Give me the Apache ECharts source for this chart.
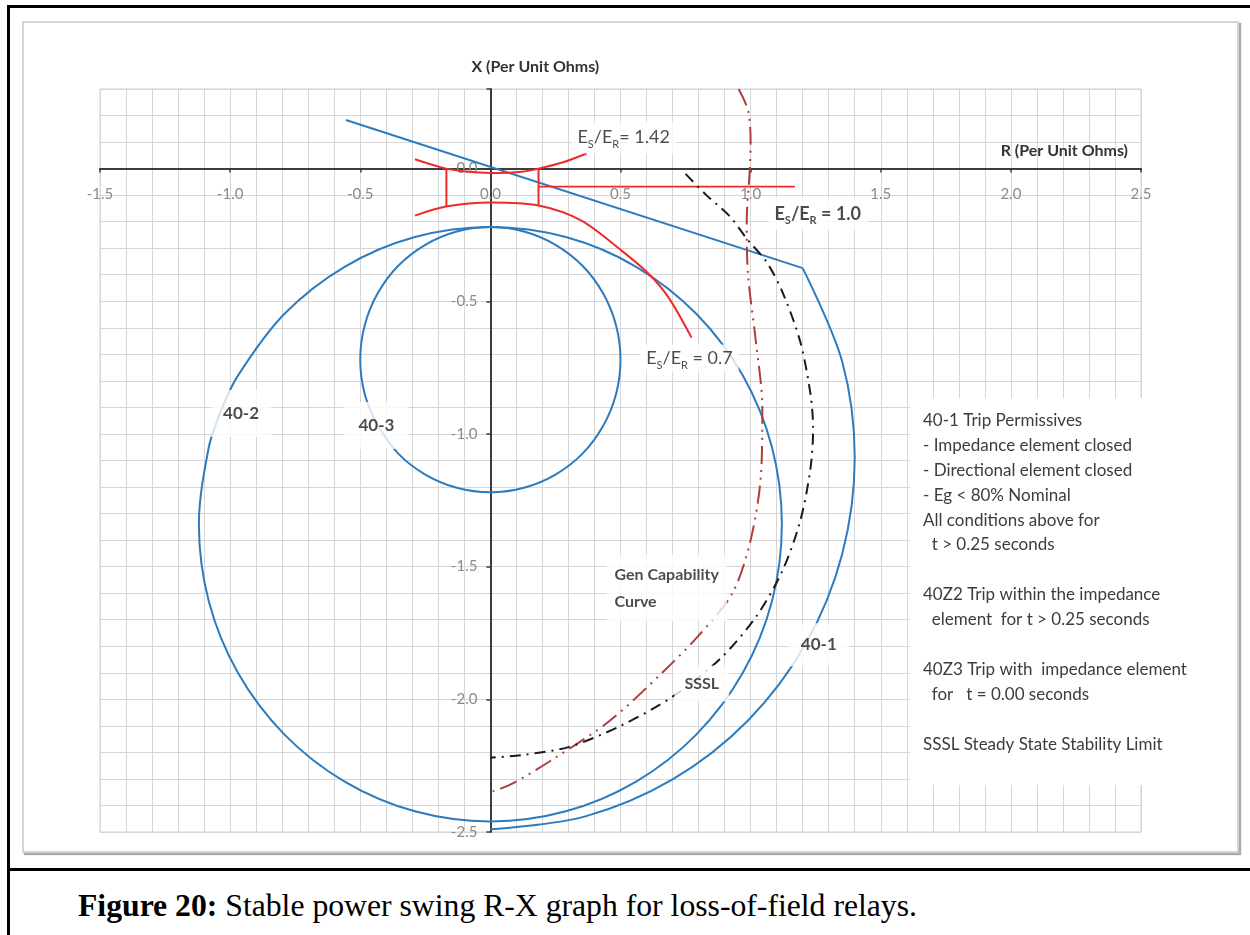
<!DOCTYPE html>
<html>
<head>
<meta charset="utf-8">
<script src="https://cdn.jsdelivr.net/npm/echarts@6/dist/echarts.min.js"></script>
<style>
html,body{margin:0;padding:0;background:#fff;width:1250px;height:935px;overflow:hidden;position:relative}
#outer{position:absolute;left:7px;top:5px;width:1260px;height:950px;border-top:3px solid #000;border-left:3px solid #000}
#sep{position:absolute;left:7px;top:868px;width:1260px;height:3px;background:#000}
#frame{position:absolute;left:22px;top:21px;width:1213px;height:828px;border:2px solid #d4d4d4;box-shadow:2px 2px 1px #a9a9a9;background:#fff}
#caption{position:absolute;left:78px;top:887px;font-family:'Liberation Serif','Times New Roman',serif;font-size:31.7px;line-height:38px;color:#000;white-space:nowrap}
#chart{position:absolute;left:0;top:0;width:1250px;height:935px}
</style>
</head>
<body>
<div id="outer"></div>
<div id="sep"></div>
<div id="frame"></div>
<div id="caption"><b>Figure 20:</b> Stable power swing R-X graph for loss-of-field relays.</div>
<div id="chart"></div>
<script>
// ---------- tick labels ----------
const rTickLabels = [-1.5, -1.0, -0.5, 0.0, 0.5, 1.0, 1.5, 2.0, 2.5];
const xTickLabels = [-2.5, -2.0, -1.5, -1.0, -0.5, 0.0];

// ---------- curves (R, X) in per-unit ohms ----------
// 40-1: directional line + offset mho arc
const relay40_1Line = [[-0.555, 0.183], [1.2, -0.375]];
const relay40_1Arc = [[1.2, -0.375], [1.352, -0.728], [1.400, -1.090], [1.352, -1.452], [1.212, -1.790],
  [0.990, -2.080], [0.700, -2.302], [0.362, -2.442], [0.0, -2.490]];
// 40-2 circle
const relay40_2 = [[-1.038, -0.920], [-0.970, -0.780], [-0.792, -0.548], [-0.560, -0.370], [-0.290, -0.258],
  [0.0, -0.220], [0.290, -0.258], [0.560, -0.370], [0.792, -0.548], [0.970, -0.780], [1.082, -1.050],
  [1.120, -1.340], [1.082, -1.630], [0.970, -1.900], [0.792, -2.132], [0.560, -2.310], [0.290, -2.422],
  [0.0, -2.460], [-0.290, -2.422], [-0.560, -2.310], [-0.792, -2.132], [-0.970, -1.900], [-1.082, -1.630],
  [-1.120, -1.340], [-1.082, -1.050], [-1.038, -0.920]];
// 40-3 circle
const relay40_3 = [[-0.437, -0.962], [-0.354, -1.074], [-0.250, -1.153], [-0.129, -1.203], [0.0, -1.220],
  [0.129, -1.203], [0.250, -1.153], [0.354, -1.074], [0.433, -0.970], [0.483, -0.849], [0.500, -0.720],
  [0.483, -0.591], [0.433, -0.470], [0.354, -0.366], [0.250, -0.287], [0.129, -0.237], [0.0, -0.220],
  [-0.129, -0.237], [-0.250, -0.287], [-0.354, -0.366], [-0.433, -0.470], [-0.483, -0.591], [-0.500, -0.720],
  [-0.483, -0.849], [-0.437, -0.962]];
// Es/Er loci
const ratio142Arc = [[-0.29, 0.035], [-0.17, 0.0], [-0.06, -0.014], [0.03, -0.017], [0.12, -0.012],
  [0.185, 0.0], [0.28, 0.024], [0.37, 0.057]];
const ratio07Arc = [[-0.29, -0.177], [-0.17, -0.143], [0.0, -0.128], [0.185, -0.139], [0.35, -0.196],
  [0.504, -0.309], [0.608, -0.396], [0.685, -0.486], [0.773, -0.637]];
const swingLeftEdge = [[-0.169, -0.004], [-0.169, -0.143]];
const swingRightEdge = [[0.185, 0.0], [0.185, -0.139]];
const ratio10Line = [[0.185, -0.068], [1.17, -0.068]];
// Generator capability curve
const genCapability = [[0.954, 0.30], [0.99, 0.22], [1.0, 0.10], [0.997, 0.0], [0.985, -0.2], [0.99, -0.4],
  [1.02, -0.65], [1.045, -0.9], [1.04, -1.15], [1.0, -1.4], [0.93, -1.6], [0.80, -1.76], [0.66, -1.90],
  [0.46, -2.08], [0.25, -2.22], [0.08, -2.32], [0.0, -2.35]];
// Steady state stability limit
const sssl = [[0.75, -0.02], [0.83, -0.10], [0.92, -0.18], [0.99, -0.27], [1.06, -0.35], [1.12, -0.46],
  [1.19, -0.65], [1.23, -0.85], [1.24, -0.98], [1.23, -1.13], [1.19, -1.33], [1.12, -1.52], [1.02, -1.69],
  [0.88, -1.85], [0.70, -1.99], [0.50, -2.10], [0.30, -2.18], [0.12, -2.21], [0.0, -2.22]];

// ---------- annotations ----------
const annotationTexts = ['ratio142', 'ratio10', 'ratio07', '40-2', '40-3', '40-1', 'Gen Capability\nCurve', 'SSSL'];
const annotationAnchors = [[0.512, 0.117], [1.258, -0.17], [0.765, -0.716], [-0.958, -0.923], [-0.438, -0.968],
  [1.262, -1.794], [0.444, -1.58], [0.812, -1.94]];

const panelLines = [
  '40-1 Trip Permissives',
  '- Impedance element closed',
  '- Directional element closed',
  '- Eg < 80% Nominal',
  'All conditions above for',
  '  t > 0.25 seconds',
  '',
  '40Z2 Trip within the impedance',
  '  element  for t > 0.25 seconds',
  '',
  '40Z3 Trip with  impedance element',
  '  for   t = 0.00 seconds',
  '',
  'SSSL Steady State Stability Limit'
];

const FONT = 'Lato, "Open Sans", sans-serif';
const BLUE = '#2c7bbf';
const RED = '#ee2a2a';
const TXT = '#1e1e1e';

// plot layout (pixels) and axis ranges
const GRID = { left: 100, right: 109, top: 89, bottom: 103 };
const R_MIN = -1.5, R_MAX = 2.5, X_MIN = -2.5, X_MAX = 0.3;
const plotW = 1250 - GRID.left - GRID.right, plotH = 935 - GRID.top - GRID.bottom;
// offsets that place the axes through the origin
const xAxisOffset = -(plotH * (0 - X_MIN) / (X_MAX - X_MIN));      // bottom axis moved up to X = 0
const yAxisOffset = -(plotW * (0 - R_MIN) / (R_MAX - R_MIN));      // left axis moved right to R = 0
const xTickAxisOffset = -(plotH * (X_MAX - 0) / (X_MAX - X_MIN));  // top axis moved down to X = 0
const yTickAxisOffset = -(plotW * (R_MAX - 0) / (R_MAX - R_MIN));  // right axis moved left to R = 0

function tickFormatter(list) {
  return function (v) {
    for (const t of list) {
      if (Math.abs(v - t) < 1e-6) return Math.abs(t) < 1e-9 ? '0.0' : t.toFixed(1);
    }
    return '';
  };
}

function lineSeries(data, color, extra) {
  return Object.assign({
    type: 'line', data: data, showSymbol: false, symbol: 'none', silent: true, animation: false, z: 3,
    lineStyle: { color: color, width: 2 }
  }, extra || {});
}

const ratioRich = {
  m: { fontSize: 18, lineHeight: 24, verticalAlign: 'middle', color: TXT, fontFamily: FONT },
  mb: { fontSize: 18, lineHeight: 24, verticalAlign: 'middle', color: TXT, fontFamily: FONT, fontWeight: 'bold' },
  s: { fontSize: 11, lineHeight: 11, verticalAlign: 'bottom', color: TXT, fontFamily: FONT },
  sb: { fontSize: 11, lineHeight: 11, verticalAlign: 'bottom', color: TXT, fontFamily: FONT, fontWeight: 'bold' }
};
const annotationLabel = {
  'ratio142': { formatter: '{m|E}{s|S}{m|/E}{s|R}{m|= 1.42}', padding: [4, 6], rich: ratioRich },
  'ratio10': { formatter: '{mb|E}{sb|S}{mb|/E}{sb|R}{mb| = 1.0}', padding: [4, 6], rich: ratioRich },
  'ratio07': { formatter: '{m|E}{s|S}{m|/E}{s|R}{m| = 0.7}', padding: [2, 6], rich: ratioRich },
  '40-2': { fontSize: 17, fontWeight: 'bold', padding: [15, 12] },
  '40-3': { fontSize: 17, fontWeight: 'bold', padding: [15, 14] },
  '40-1': { fontSize: 17, fontWeight: 'bold', padding: [13, 12] },
  'Gen Capability\nCurve': { fontSize: 16, fontWeight: 'bold', padding: [6, 8], position: 'right', distance: 0, lineHeight: 27 },
  'SSSL': { fontSize: 16, fontWeight: 'bold', padding: [10, 10] }
};

const labelData = annotationTexts.map(function (t, i) {
  return {
    name: t, value: annotationAnchors[i],
    label: Object.assign({ show: true, position: 'inside', color: TXT, fontFamily: FONT, backgroundColor: '#fff' }, annotationLabel[t])
  };
});

const tickAxisCommon = {
  type: 'value', axisLine: { show: false, onZero: false }, axisLabel: { show: false }, splitLine: { show: false },
  axisTick: { show: true, inside: true, length: 4, lineStyle: { color: '#3c3c3c', width: 1.5 } }
};

const chart = echarts.init(document.getElementById('chart'), null, { renderer: 'canvas' });
chart.setOption({
  animation: false,
  grid: { left: GRID.left, right: GRID.right, top: GRID.top, bottom: GRID.bottom, show: true, borderColor: '#d2d2d2', borderWidth: 1 },
  xAxis: [{
    type: 'value', min: R_MIN, max: R_MAX, interval: 0.1, position: 'bottom', offset: xAxisOffset,
    axisLine: { onZero: false, lineStyle: { color: '#3c3c3c', width: 2 } },
    axisTick: { show: false },
    axisLabel: { formatter: tickFormatter(rTickLabels), margin: 18, color: '#8a8a8a', fontSize: 15, fontFamily: FONT },
    splitLine: { show: true, lineStyle: { color: '#d6d6d6', width: 1 } },
    name: 'R (Per Unit Ohms)', nameLocation: 'end', nameGap: -13,
    nameTextStyle: { align: 'right', verticalAlign: 'bottom', padding: [0, 0, 10, 0], color: '#333', fontSize: 16, fontWeight: 'bold', fontFamily: FONT }
  }, Object.assign({ min: R_MIN, max: R_MAX, interval: 0.5, position: 'top', offset: xTickAxisOffset }, tickAxisCommon)],
  yAxis: [{
    type: 'value', min: X_MIN, max: X_MAX, interval: 0.1, position: 'left', offset: yAxisOffset,
    axisLine: { onZero: false, lineStyle: { color: '#3c3c3c', width: 2 } },
    axisTick: { show: false },
    axisLabel: { formatter: tickFormatter(xTickLabels), margin: 13, color: '#8a8a8a', fontSize: 15, fontFamily: FONT },
    splitLine: { show: true, lineStyle: { color: '#d6d6d6', width: 1 } },
    name: 'X (Per Unit Ohms)', nameLocation: 'end', nameGap: 14,
    nameTextStyle: { padding: [0, 0, 0, 90], color: '#333', fontSize: 16, fontWeight: 'bold', fontFamily: FONT }
  }, Object.assign({ min: X_MIN, max: X_MAX, interval: 0.5, position: 'right', offset: yTickAxisOffset }, tickAxisCommon)],
  series: [
    lineSeries(relay40_1Line, BLUE),
    lineSeries(relay40_1Arc, BLUE, { smooth: 0.33 }),
    lineSeries(relay40_2, BLUE, { smooth: 0.33 }),
    lineSeries(relay40_3, BLUE, { smooth: 0.33 }),
    lineSeries(ratio142Arc, RED, { smooth: 0.3 }),
    lineSeries(ratio07Arc, RED, { smooth: 0.3 }),
    lineSeries(swingLeftEdge, RED),
    lineSeries(swingRightEdge, RED),
    lineSeries(ratio10Line, RED, { lineStyle: { color: RED, width: 1.6 } }),
    lineSeries(genCapability, '#b23c3c', { smooth: 0.3, lineStyle: { color: '#b23c3c', width: 2, type: [18, 6, 2, 6, 2, 6] } }),
    lineSeries(sssl, '#1a1a1a', { smooth: 0.3, lineStyle: { color: '#1a1a1a', width: 2, type: [11, 6, 2, 6] } }),
    {
      type: 'scatter', data: labelData, symbolSize: 1, silent: true, animation: false, z: 10,
      itemStyle: { color: 'rgba(0,0,0,0)' },
      label: { show: true, formatter: function (p) { return p.name; } }
    }
  ],
  graphic: [
    { type: 'rect', x: 910, y: 398, shape: { width: 282, height: 387 }, style: { fill: '#fff' }, z: 50, silent: true },
    { type: 'text', x: 923, y: 408, z: 51, silent: true,
      style: { text: panelLines.join('\n'), font: '17px ' + FONT, fill: '#3c3c3c', lineHeight: 24.9 } }
  ]
});
</script>
</body>
</html>
